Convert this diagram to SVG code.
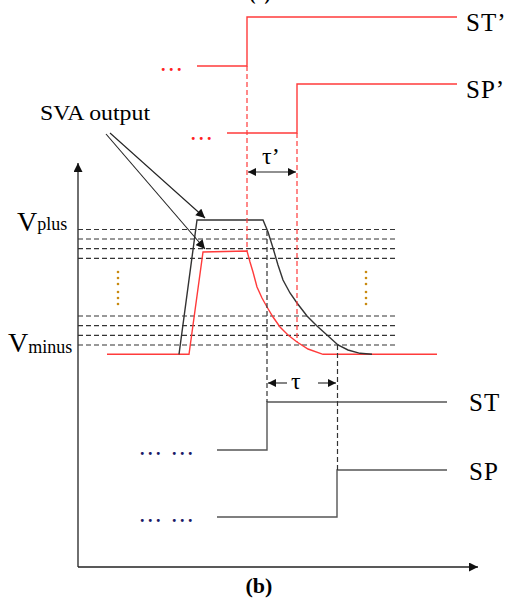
<svg xmlns="http://www.w3.org/2000/svg" width="509" height="600" viewBox="0 0 509 600">
<defs>
<style>
.t{font-family:"Liberation Serif","Times New Roman",serif;fill:#000}
.red{fill:none;stroke:#ff3b3b;stroke-width:1.4}
.redd{fill:none;stroke:#ff3b3b;stroke-width:1.2;stroke-dasharray:5,3}
.blk{fill:none;stroke:#333;stroke-width:1.4}
.sig{fill:none;stroke:#555;stroke-width:1.4}
.dash{fill:none;stroke:#333;stroke-width:1.2;stroke-dasharray:5,3}
.ax{fill:none;stroke:#222;stroke-width:1.3}
.ptr{fill:none;stroke:#222;stroke-width:1.1}
.od{fill:#c88a10}
.lbl{font-size:25px;letter-spacing:1px}
.dots{font-size:18px;letter-spacing:3.5px;font-weight:bold}
</style>
<marker id="ah" viewBox="0 0 10 10" refX="10" refY="5" markerWidth="10" markerHeight="9" markerUnits="userSpaceOnUse" orient="auto">
<path d="M0,0 L10,5 L0,10 z" fill="#111"/>
</marker>
<marker id="ahs" viewBox="0 0 10 10" refX="10" refY="5" markerWidth="9" markerHeight="8" markerUnits="userSpaceOnUse" orient="auto-start-reverse">
<path d="M0,0 L10,5 L0,10 z" fill="#111"/>
</marker>
</defs>
<rect width="509" height="600" fill="#fff"/>

<text class="t" x="260" y="0" font-size="18" font-weight="bold" text-anchor="middle">(a)</text>

<g id="axes">
<line class="ax" x1="78" y1="567" x2="78" y2="163" marker-end="url(#ah)"/>
<line class="ax" x1="78" y1="567" x2="478" y2="567" marker-end="url(#ah)"/>
</g>

<g id="thresholds">
<line class="dash" x1="78" y1="229.5" x2="396" y2="229.5"/>
<line class="dash" x1="78" y1="239" x2="396" y2="239"/>
<line class="dash" x1="78" y1="248.7" x2="396" y2="248.7"/>
<line class="dash" x1="78" y1="258.3" x2="396" y2="258.3"/>
<line class="dash" x1="78" y1="316" x2="396" y2="316"/>
<line class="dash" x1="78" y1="325.7" x2="396" y2="325.7"/>
<line class="dash" x1="78" y1="335.3" x2="396" y2="335.3"/>
<line class="dash" x1="78" y1="345" x2="396" y2="345"/>
</g>

<g id="vdots">
<circle class="od" cx="118" cy="272" r="1.3"/><circle class="od" cx="118" cy="278" r="1.3"/><circle class="od" cx="118" cy="284" r="1.3"/>
<circle class="od" cx="118" cy="292" r="1.3"/><circle class="od" cx="118" cy="298" r="1.3"/><circle class="od" cx="118" cy="304" r="1.3"/>
<circle class="od" cx="366" cy="272" r="1.3"/><circle class="od" cx="366" cy="278" r="1.3"/><circle class="od" cx="366" cy="284" r="1.3"/>
<circle class="od" cx="366" cy="292" r="1.3"/><circle class="od" cx="366" cy="298" r="1.3"/><circle class="od" cx="366" cy="304" r="1.3"/>
</g>

<g id="vplus">
<text class="t" x="17" y="231" font-size="28">V<tspan font-size="18" dy="-1">plus</tspan></text>
</g>
<g id="vminus">
<text class="t" x="8" y="352" font-size="28">V<tspan font-size="18" dy="1">minus</tspan></text>
</g>

<g id="red-trace">
<polyline class="red" points="107,354.3 189,354.3 203,252 247,251 250,262 253,272 257,287 262,298 267,307 273,317 280,327 288,335 297,342 308,349 323,354.3 437,354.3"/>
</g>
<g id="black-trace">
<polyline class="blk" points="179,354.3 197,220 263,220 268,232 273,248 278,265 283,280 290,293 297,303 307,316 317,326 327,335 338,345 348,350 360,353.3 372,354.3"/>
</g>

<g id="ST-prime">
<polyline class="red" points="197,66 247,66 247,17 457,17"/>
<text class="t dots" x="161" y="71" style="fill:#ff2020">...</text>
<text class="t lbl" x="466" y="31">ST’</text>
</g>
<g id="SP-prime">
<polyline class="red" points="227,133 297,133 297,84 457,84"/>
<text class="t dots" x="191" y="140" style="fill:#ff2020">...</text>
<text class="t lbl" x="466" y="98">SP’</text>
</g>

<g id="ST">
<polyline class="sig" points="217,450 267,450 267,402 447,402"/>
<text class="t dots" x="140" y="455" style="fill:#1a1a66">... ...</text>
<text class="t lbl" x="469" y="411">ST</text>
</g>
<g id="SP">
<polyline class="sig" points="217,517 337,517 337,470 447,470"/>
<text class="t dots" x="140" y="522" style="fill:#1a1a66">... ...</text>
<text class="t lbl" x="469" y="480">SP</text>
</g>

<g id="sva-label">
<text class="t" x="40" y="120" font-size="22" textLength="110" lengthAdjust="spacingAndGlyphs">SVA output</text>
</g>

<g id="connectors">
<line class="redd" x1="247" y1="66" x2="247" y2="251"/>
<line class="redd" x1="297" y1="133" x2="297" y2="342"/>
<line class="dash" x1="267" y1="231" x2="267" y2="402"/>
<line class="dash" x1="337.5" y1="345" x2="337.5" y2="470"/>
<line class="ptr" x1="110" y1="133" x2="205" y2="218" marker-end="url(#ah)"/>
<line class="ptr" x1="106" y1="134" x2="205" y2="249" marker-end="url(#ah)"/>
<line class="ptr" x1="248" y1="172" x2="296" y2="172" marker-start="url(#ahs)" marker-end="url(#ahs)"/>
<line class="ptr" x1="268" y1="383" x2="287" y2="383" marker-start="url(#ahs)"/>
<line class="ptr" x1="318" y1="383" x2="336" y2="383" marker-end="url(#ahs)"/>
</g>

<g id="tau-labels">
<text class="t" x="262" y="164" font-size="24">τ’</text>
<text class="t" x="291" y="389" font-size="24">τ</text>
</g>

<text class="t" x="259" y="593" font-size="22" font-weight="bold" text-anchor="middle">(b)</text>
</svg>
